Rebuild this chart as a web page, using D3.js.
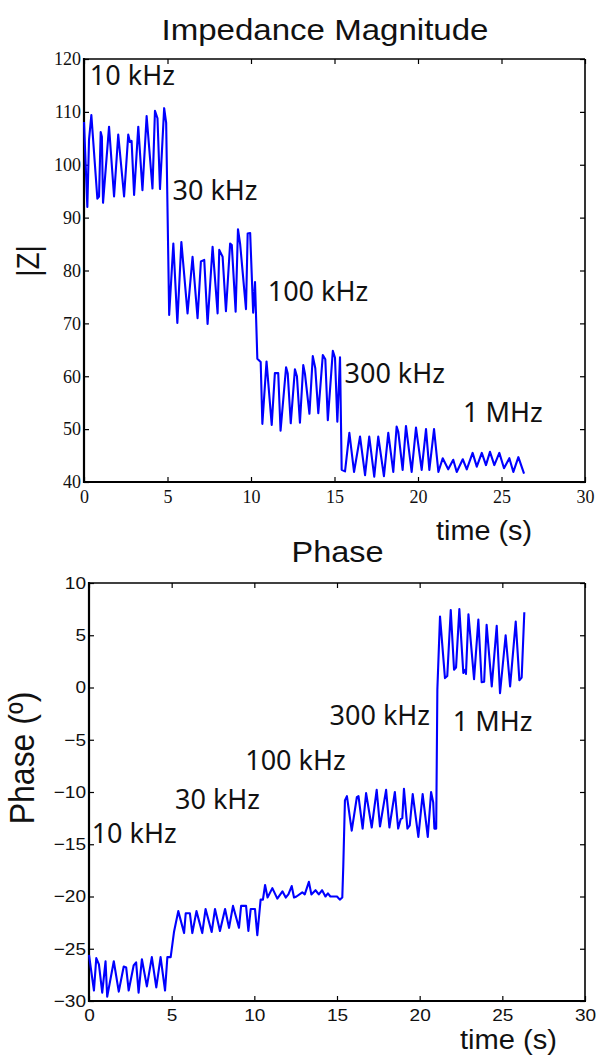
<!DOCTYPE html>
<html>
<head>
<meta charset="utf-8">
<script src="https://cdn.jsdelivr.net/npm/d3@7"></script>
<style>
  html, body { margin: 0; padding: 0; background: #fff; }
  svg { display: block; }
</style>
</head>
<body>
<svg id="chart" width="599" height="1055"></svg>
<script>
// ---------- DATA ----------
const xTicks = [0, 5, 10, 15, 20, 25, 30];
const magTicks = [40, 50, 60, 70, 80, 90, 100, 110, 120];
const phaseTicks = [-30, -25, -20, -15, -10, -5, 0, 5, 10];

const magTime = [0, 0.2, 0.3, 0.44, 0.8, 0.9, 1.0, 1.07, 1.14, 1.5, 1.8, 2.05, 2.4, 2.65, 2.75, 2.85, 3.0, 3.25, 3.5, 3.75, 4.1, 4.25, 4.4, 4.55, 4.8, 4.92,
  5.1, 5.35, 5.59, 5.83, 6.2, 6.5, 6.8, 7.0, 7.2, 7.4, 7.7, 8.0, 8.1, 8.3, 8.5, 8.75, 8.85, 9.08, 9.22, 9.35, 9.7, 9.8, 9.95, 10.13, 10.24,
  10.38, 10.58, 10.68, 10.93, 11.24, 11.43, 11.63, 11.77, 12.1, 12.2, 12.38, 12.63, 12.75, 12.93, 13.13, 13.23, 13.5, 13.7, 13.85, 14.03, 14.3, 14.45, 14.6, 14.9, 15.03, 15.17, 15.33,
  15.43, 15.63, 15.89, 16.17, 16.53, 16.83, 17.08, 17.38, 17.62, 17.96, 18.22, 18.52, 18.72, 18.82, 19.08, 19.28, 19.62, 19.88, 20.22, 20.48, 20.68, 20.96, 21.22,
  21.48, 21.81, 22.11, 22.32, 22.68, 22.92, 23.27, 23.52, 23.82, 24.07, 24.31, 24.57, 24.87, 25.15, 25.47, 25.71, 26.01, 26.35];
const magValue = [108.1, 92.0, 104.7, 109.4, 93.6, 94.0, 106.2, 105.3, 92.8, 107.2, 94.0, 105.7, 94.0, 105.7, 104.3, 104.5, 94.3, 107.2, 95.2, 109.2, 95.5, 110.2, 108.8, 95.4, 110.7, 107.9,
  71.6, 85.1, 70.1, 85.4, 71.9, 82.6, 71.0, 81.7, 82.0, 69.9, 84.5, 71.9, 83.9, 82.6, 72.3, 85.1, 84.8, 72.2, 87.8, 85.0, 72.7, 87.0, 87.1, 72.0, 77.8,
  63.3, 62.7, 51.0, 62.8, 50.8, 60.6, 60.6, 49.7, 61.7, 60.5, 51.1, 61.3, 60.0, 51.2, 62.1, 60.5, 52.9, 63.8, 61.5, 53.0, 64.0, 63.2, 51.7, 64.8, 63.5, 51.4, 63.6,
  42.3, 42.0, 49.3, 41.9, 48.6, 41.3, 48.6, 41.0, 48.6, 41.1, 49.3, 41.9, 50.5, 49.5, 42.3, 50.6, 41.9, 50.3, 42.3, 50.0, 42.3, 50.0, 41.9,
  44.5, 42.4, 44.2, 41.9, 44.3, 42.4, 45.5, 42.9, 45.5, 43.2, 45.7, 43.2, 45.5, 42.6, 44.5, 41.9, 44.7, 41.6];

const phaseTime = [0, 0.3, 0.44, 0.6, 0.8, 1.0, 1.1, 1.5, 1.8, 2.1, 2.25, 2.4, 2.7, 2.85, 3.0, 3.2, 3.5, 3.8, 4.07, 4.33, 4.6, 4.74, 4.94,
  5.14, 5.4, 5.75, 5.85, 6.1, 6.25, 6.5, 6.85, 7.05, 7.42, 7.62, 7.92, 8.23, 8.47, 8.71, 9.07, 9.2, 9.5, 9.64, 9.78, 10.04, 10.18,
  10.38, 10.52, 10.65, 10.8, 11.09, 11.39, 11.7, 11.9, 12.06, 12.26, 12.4, 12.55, 12.9, 13.05, 13.3, 13.45, 13.7, 13.9, 14.1, 14.3, 14.45, 14.6, 15.0, 15.17, 15.32,
  15.38, 15.48, 15.6, 15.89, 16.2, 16.3, 16.55, 16.76, 17.1, 17.4, 17.6, 17.97, 18.17, 18.5, 18.7, 18.85, 18.95, 19.05, 19.26, 19.4, 19.58, 19.92, 20.18, 20.49, 20.69, 20.82, 20.89, 21.0,
  21.07, 21.23, 21.53, 21.67, 21.88, 22.08, 22.2, 22.4, 22.64, 22.75, 22.8, 22.95, 23.29, 23.55, 23.75, 23.9, 24.05, 24.36, 24.66, 24.86, 25.2, 25.47, 25.81, 26.03, 26.17, 26.33];
const phaseValue = [-25.6, -29.0, -25.9, -26.5, -29.2, -26.2, -29.6, -26.2, -29.1, -26.7, -26.8, -29.0, -26.6, -26.3, -29.2, -26.0, -28.6, -25.8, -28.7, -25.8, -29.0, -25.8, -25.8,
  -23.4, -21.4, -23.5, -21.6, -21.6, -23.5, -21.4, -23.5, -21.2, -23.4, -21.2, -23.3, -21.2, -23.0, -20.9, -23.0, -20.9, -20.9, -23.3, -21.2, -21.2, -23.7,
  -20.3, -20.3, -18.9, -20.1, -19.2, -20.2, -19.5, -20.1, -19.8, -19.0, -20.1, -20.0, -19.6, -19.8, -18.6, -19.8, -19.4, -19.8, -19.4, -20.0, -19.7, -20.0, -20.0, -20.3, -20.1,
  -17.1, -10.8, -10.4, -13.7, -10.5, -10.4, -13.5, -10.1, -13.4, -9.8, -13.3, -9.8, -13.4, -10.0, -13.5, -12.6, -12.5, -9.7, -13.5, -13.2, -10.2, -14.3, -10.2, -14.3, -10.0, -11.0, -13.5, -13.5,
  -0.2, 6.8, 0.9, 1.1, 7.4, 1.7, 1.9, 7.5, 1.4, 1.7, 1.3, 7.0, 0.8, 6.5, 0.5, 0.55, 6.0, 0.1, 5.9, -0.55, 5.0, 0.1, 6.3, 0.7, 0.95, 7.2];

const magLabels = ["10 kHz", "30 kHz", "100 kHz", "300 kHz", "1 MHz"];
const magLabelAt = [[0.35, 115], [5.3, 93.3], [11.0, 74.3], [15.6, 58.8], [22.7, 51.3]];
const phaseLabels = ["10 kHz", "30 kHz", "100 kHz", "300 kHz", "1 MHz"];
const phaseLabelAt = [[0.16, -14.9], [5.2, -11.6], [9.45, -7.9], [14.55, -3.55], [22.0, -4.2]];

// ---------- DRAW ----------
const svg = d3.select("#chart");
const blue = "#0000ff";

function panel(cfg) {
  const x = d3.scaleLinear().domain([0, 30]).range([cfg.left, cfg.right]);
  const y = d3.scaleLinear().domain(cfg.ydom).range([cfg.bottom, cfg.top]);
  const g = svg.append("g");

  // inward ticks on all four sides
  const tickFont = cfg.tickFont, tickSize = cfg.tickSize;
  const ax = [
    g.append("g").attr("transform", `translate(0,${cfg.bottom})`).call(d3.axisBottom(x).tickValues(xTicks).tickSize(-5).tickPadding(cfg.xPad)),
    g.append("g").attr("transform", `translate(${cfg.left},0)`).call(d3.axisLeft(y).tickValues(cfg.yTicks).tickSize(-5).tickPadding(cfg.yPad)),
    g.append("g").attr("transform", `translate(0,${cfg.top})`).call(d3.axisTop(x).tickValues(xTicks).tickSize(-5).tickFormat("")),
    g.append("g").attr("transform", `translate(${cfg.right},0)`).call(d3.axisRight(y).tickValues(cfg.yTicks).tickSize(-5).tickFormat(""))
  ];
  ax.forEach(a => {
    a.select(".domain").remove();
    a.selectAll("line").attr("stroke", "#000").attr("stroke-width", 1.2);
    a.selectAll("text").attr("font-family", tickFont).attr("font-size", tickSize).attr("fill", "#111");
  });
  if (cfg.tickStretch) {
    g.selectAll("text").each(function () {
      const L = this.getComputedTextLength();
      d3.select(this).attr("textLength", L * cfg.tickStretch).attr("lengthAdjust", "spacingAndGlyphs");
    });
  }
  // frame
  g.append("line").attr("x1", cfg.left).attr("x2", cfg.right).attr("y1", cfg.top).attr("y2", cfg.top).attr("stroke", "#000").attr("stroke-width", 1.4);
  g.append("line").attr("x1", cfg.right).attr("x2", cfg.right).attr("y1", cfg.top).attr("y2", cfg.bottom).attr("stroke", "#000").attr("stroke-width", 1.6);
  g.append("line").attr("x1", cfg.left).attr("x2", cfg.left).attr("y1", cfg.top - 1).attr("y2", cfg.bottom + 1).attr("stroke", "#000").attr("stroke-width", 2.2);
  g.append("line").attr("x1", cfg.left - 1).attr("x2", cfg.right + 1).attr("y1", cfg.bottom).attr("y2", cfg.bottom).attr("stroke", "#000").attr("stroke-width", 2.2);

  // series
  const pts = cfg.t.map((t, i) => [t, cfg.v[i]]);
  g.append("path").datum(pts)
    .attr("fill", "none").attr("stroke", blue).attr("stroke-width", 2.1).attr("stroke-linejoin", "round")
    .attr("d", d3.line().x(d => x(d[0])).y(d => y(d[1])));

  // annotations
  cfg.labels.forEach((s, i) => {
    g.append("text").attr("x", x(cfg.labelAt[i][0])).attr("y", y(cfg.labelAt[i][1]))
      .attr("font-family", "'Noto Sans', 'Open Sans', sans-serif").attr("font-size", 27).attr("fill", "#111").text(s);
  });
  return { x, y };
}

panel({
  left: 84, right: 585, top: 59, bottom: 482, ydom: [40, 120], yTicks: magTicks,
  tickFont: "'Liberation Serif', 'Times New Roman', serif", tickSize: 18, xPad: 8, yPad: 3,
  t: magTime, v: magValue, labels: magLabels, labelAt: magLabelAt
});
panel({
  left: 89, right: 585, top: 583, bottom: 1001, ydom: [-30, 10], yTicks: phaseTicks,
  tickFont: "'Liberation Sans', Arial, sans-serif", tickSize: 17, tickStretch: 1.12, xPad: 8, yPad: 3,
  t: phaseTime, v: phaseValue, labels: phaseLabels, labelAt: phaseLabelAt
});

const sans = "'Liberation Sans', Arial, sans-serif";
function title(s, x, y, size, len) {
  svg.append("text").attr("x", x).attr("y", y).attr("font-family", sans).attr("font-size", size)
    .attr("fill", "#111").attr("textLength", len).attr("lengthAdjust", "spacingAndGlyphs").text(s);
}
title("Impedance Magnitude", 161.5, 40, 30, 327);
title("Phase", 291.5, 561.5, 29, 92);
title("time (s)", 436, 540, 27, 96);
title("time (s)", 460, 1049, 27, 97);

svg.append("text").attr("transform", "translate(39,261) scale(1.1,1) rotate(-90)")
  .attr("text-anchor", "middle").attr("font-family", sans).attr("font-size", 28).attr("fill", "#111").text("|Z|");
svg.append("text").attr("transform", "translate(33.5,758) scale(1.08,1) rotate(-90)")
  .attr("text-anchor", "middle").attr("font-family", sans).attr("font-size", 32).attr("fill", "#111").text("Phase (º)");
</script>
</body>
</html>
